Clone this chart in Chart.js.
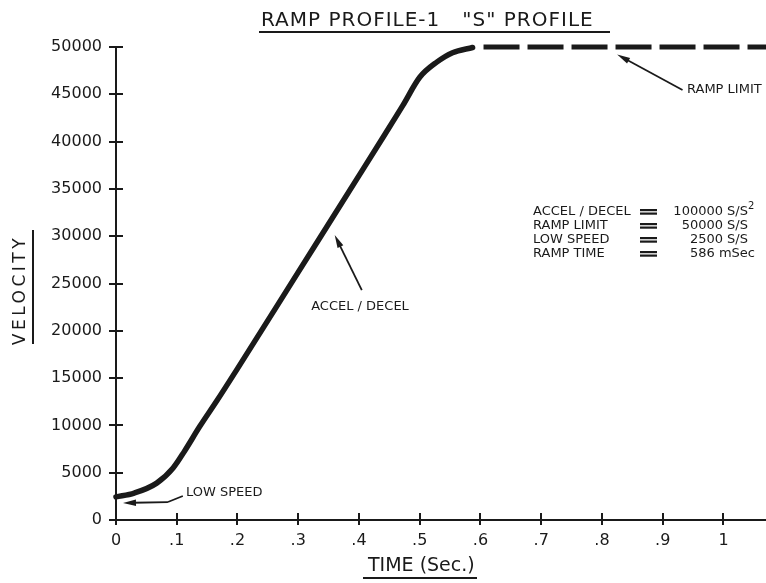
<!DOCTYPE html>
<html>
<head>
<meta charset="utf-8">
<script src="https://cdn.jsdelivr.net/npm/chart.js@4"></script>
<style>
  body { margin: 0; background: #fff; }
  canvas { display: block; }
</style>
</head>
<body>
<canvas id="rampChart" width="766" height="583"></canvas>
<script>
// curve (time in sec, velocity in steps/sec)
const timeSec = [0, 0.03, 0.067, 0.094, 0.113, 0.138, 0.166, 0.2, 0.3, 0.4, 0.442, 0.472, 0.5, 0.528, 0.554, 0.587];
const velocity = [2450, 2850, 3900, 5500, 7300, 9900, 12600, 16000, 26200, 36400, 40700, 43800, 46800, 48400, 49400, 49950];
// dashed ramp limit line
const limitTime = [0.605, 1.07];
const limitVel = [50000, 50000];

const xTickValues = [0, 0.1, 0.2, 0.3, 0.4, 0.5, 0.6, 0.7, 0.8, 0.9, 1];
const xTickLabels = ['0', '.1', '.2', '.3', '.4', '.5', '.6', '.7', '.8', '.9', '1'];

const titleText = 'RAMP PROFILE-1   "S" PROFILE';
const xTitle = 'TIME (Sec.)';
const yTitle = 'VELOCITY';
const specLabels = ['ACCEL / DECEL', 'RAMP LIMIT', 'LOW SPEED', 'RAMP TIME'];
const specValues = ['100000 S/S', '50000 S/S', '2500 S/S', '586 mSec'];

const INK = '#1a1a1a';
const FONT = '"DejaVu Sans", sans-serif';

function arrow(ctx, x1, y1, x2, y2) {
  // line from (x1,y1) to tip (x2,y2) with a slim filled head
  const ang = Math.atan2(y2 - y1, x2 - x1);
  const len = 13, w = 3.2;
  ctx.beginPath();
  ctx.moveTo(x1, y1);
  ctx.lineTo(x2 - Math.cos(ang) * len * 0.8, y2 - Math.sin(ang) * len * 0.8);
  ctx.stroke();
  ctx.beginPath();
  ctx.moveTo(x2, y2);
  ctx.lineTo(x2 - Math.cos(ang) * len - Math.sin(ang) * w, y2 - Math.sin(ang) * len + Math.cos(ang) * w);
  ctx.lineTo(x2 - Math.cos(ang) * len + Math.sin(ang) * w, y2 - Math.sin(ang) * len - Math.cos(ang) * w);
  ctx.closePath();
  ctx.fill();
}

const decorPlugin = {
  id: 'decor',
  afterDraw(chart) {
    const ctx = chart.ctx;
    const xs = chart.scales.x, ys = chart.scales.y;
    const X = v => xs.getPixelForValue(v), Y = v => ys.getPixelForValue(v);
    ctx.save();
    ctx.strokeStyle = INK;
    ctx.fillStyle = INK;

    // tick marks crossing the axes
    ctx.lineWidth = 2;
    xs.ticks.forEach(t => {
      const px = Math.round(X(t.value));
      ctx.beginPath();
      ctx.moveTo(px, ys.bottom - 7);
      ctx.lineTo(px, ys.bottom + 5);
      ctx.stroke();
    });
    ys.ticks.forEach(t => {
      const py = Math.round(Y(t.value));
      ctx.beginPath();
      ctx.moveTo(xs.left - 7, py);
      ctx.lineTo(xs.left + 7, py);
      ctx.stroke();
    });

    // title
    ctx.font = '20px ' + FONT;
    ctx.letterSpacing = '1px';
    ctx.textBaseline = 'middle';
    ctx.textAlign = 'left';
    ctx.fillText(titleText, 261, 21);
    ctx.lineWidth = 2;
    ctx.beginPath(); ctx.moveTo(259, 32); ctx.lineTo(610, 32); ctx.stroke();

    // x axis title
    ctx.letterSpacing = '0px';
    ctx.font = '19px ' + FONT;
    ctx.fillText(xTitle, 368, 566);
    ctx.beginPath(); ctx.moveTo(363, 578); ctx.lineTo(477, 578); ctx.stroke();

    // y axis title, rotated
    ctx.save();
    ctx.translate(21, 292);
    ctx.rotate(-Math.PI / 2);
    ctx.font = '17px ' + FONT;
    ctx.letterSpacing = '3.5px';
    ctx.textAlign = 'center';
    ctx.fillText(yTitle, 2, 0);
    ctx.restore();
    ctx.beginPath(); ctx.moveTo(33, 230); ctx.lineTo(33, 344); ctx.stroke();

    // spec block
    ctx.font = '13px ' + FONT;
    ctx.letterSpacing = '0px';
    const rowY = [212, 226, 240, 254];
    specLabels.forEach((s, i) => {
      ctx.textAlign = 'left';
      ctx.fillText(s, 533, rowY[i]);
      ctx.fillRect(640, rowY[i] - 3, 17, 2.2);
      ctx.fillRect(640, rowY[i] + 0.5, 17, 2.2);
      ctx.textAlign = 'right';
      ctx.fillText(specValues[i], i === 3 ? 755 : 748, rowY[i]);
    });
    ctx.font = '10px ' + FONT;
    ctx.textAlign = 'left';
    ctx.fillText('2', 748, rowY[0] - 6);

    // annotations with arrows
    ctx.font = '13px ' + FONT;
    ctx.lineWidth = 1.8;
    ctx.textAlign = 'left';
    ctx.fillText('RAMP LIMIT', 687, 90);
    arrow(ctx, X(0.9326), Y(45450), X(0.825), Y(49200));

    ctx.textAlign = 'center';
    ctx.fillText('ACCEL / DECEL', 360, 307);
    arrow(ctx, X(0.4046), Y(24310), X(0.36), Y(30130));

    ctx.textAlign = 'left';
    ctx.fillText('LOW SPEED', 186, 493);
    ctx.beginPath();
    ctx.moveTo(X(0.110), Y(2540));
    ctx.lineTo(X(0.0855), Y(1900));
    ctx.stroke();
    arrow(ctx, X(0.0855), Y(1900), X(0.0115), Y(1800));

    ctx.restore();
  }
};

new Chart(document.getElementById('rampChart'), {
  type: 'line',
  data: {
    datasets: [
      {
        data: timeSec.map((t, i) => ({ x: t, y: velocity[i] })),
        borderColor: INK,
        borderWidth: 5.5,
        borderCapStyle: 'round',
        borderJoinStyle: 'round',
        cubicInterpolationMode: 'monotone',
        pointRadius: 0,
        clip: false
      },
      {
        data: limitTime.map((t, i) => ({ x: t, y: limitVel[i] })),
        borderColor: INK,
        borderWidth: 5,
        borderDash: [36, 8],
        borderCapStyle: 'butt',
        pointRadius: 0,
        clip: false
      }
    ]
  },
  options: {
    responsive: false,
    animation: false,
    layout: { padding: { top: 47, right: 0, bottom: 0, left: 0 } },
    plugins: {
      legend: { display: false },
      title: { display: false },
      tooltip: { enabled: false }
    },
    scales: {
      x: {
        type: 'linear',
        min: 0,
        max: 1.07,
        grid: { display: false, drawTicks: false },
        border: { display: true, color: INK, width: 2 },
        ticks: {
          padding: 11,
          color: INK,
          font: { family: FONT, size: 16 },
          maxRotation: 0,
          autoSkip: false,
          callback: (v, i) => xTickLabels[i]
        },
        afterBuildTicks: s => { s.ticks = xTickValues.map(v => ({ value: v })); },
        afterFit: s => { s.height = 63; }
      },
      y: {
        min: 0,
        max: 50000,
        grid: { display: false, drawTicks: false },
        border: { display: true, color: INK, width: 2 },
        ticks: {
          stepSize: 5000,
          padding: 14,
          color: INK,
          font: { family: FONT, size: 16 },
          callback: v => String(v)
        },
        afterFit: s => { s.width = 116; }
      }
    }
  },
  plugins: [decorPlugin]
});
</script>
</body>
</html>
